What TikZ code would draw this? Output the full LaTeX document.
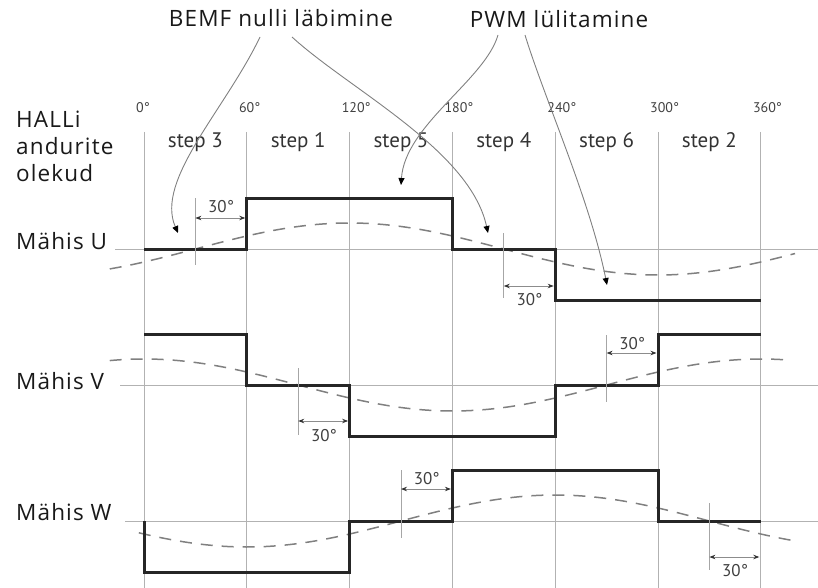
\documentclass[tikz,border=0pt]{standalone}
\usepackage{fontspec}
\setmainfont{Open Sans}[LetterSpace=5.0]
\newfontfamily\stepfont{PT Sans}
\usetikzlibrary{arrows.meta}

\begin{document}
\begin{tikzpicture}[x=1pt, y=-1pt,
    plaintext/.style ={inner sep=0pt, text=black!90, font=\fontsize{22.5}{27}\selectfont},
    steptext/.style ={inner sep=0pt, text=black!80, font=\stepfont\fontsize{21}{21}\selectfont},
    degtext/.style ={inner sep=0pt, text=black!75, font=\stepfont\fontsize{14}{14}\selectfont},
    thirty/.style ={inner sep=0pt, text=black!75, font=\stepfont\fontsize{17}{17}\selectfont},
    gridline/.style ={draw=black!30, line width=0.9pt},
    coilwave/.style ={draw=black!85, line width=3pt},
    bemfcurve/.style ={draw=black!50, line width=1.5pt, dash pattern=on 12pt off 9pt},
    dimtick/.style ={draw=black!35, line width=0.8pt},
    dimarrow/.style ={draw=black!45, line width=0.8pt, shorten >=1.5pt,
        {Stealth[black!80,length=6pt,width=4.5pt]}-{Stealth[black!80,length=6pt,width=4.5pt]}},
    pointer/.style ={draw=black!50, line width=0.9pt, -{Triangle[black,length=7pt,width=6pt]}}]

   \useasboundingbox (0,0) rectangle (818,588);

   % captions
   \node[plaintext, anchor=base] (bemf) at (281,27) {BEMF nulli läbimine};
   \node[plaintext, anchor=base] (pwm) at (559,28) {PWM lülitamine};
   \node[plaintext, anchor=base west, align=left] (hall) at (16,182) {HALLi\\andurite\\olekud};
   \node[plaintext, anchor=base west] (coilU) at (16,249) {Mähis U};
   \node[plaintext, anchor=base west] (coilV) at (16,389) {Mähis V};
   \node[plaintext, anchor=base west] (coilW) at (16,520) {Mähis W};

   % zero lines
   \draw[gridline] (115,249) -- (818,249);
   \draw[gridline] (120,385) -- (818,385);
   \draw[gridline] (125,521) -- (818,521);

   \begin{scope}[xshift=144pt, x=1.7133pt]
   \foreach \a in {0,60,...,360} {
      \draw[gridline] (\a,132) -- (\a,588);
      \node[degtext, anchor=base west, xshift=-8pt] (deg\a) at (\a,113) {\a°};
   }
   \foreach \a/\s in {30/3, 90/1, 150/5, 210/4, 270/6, 330/2}
      \node[steptext, anchor=base] (step\s) at (\a,148) {step \s};

   % back EMF
   \draw[bemfcurve] plot[domain=-20:380, samples=90, smooth] (\x, {249-26*sin(\x-30)});
   \draw[bemfcurve] plot[domain=-20:378, samples=90, smooth] (\x, {385-26*cos(\x)});
   \draw[bemfcurve] plot[domain=-3:381, samples=90, smooth] (\x, {521-26*sin(\x-150)});

   % phase voltages
   \draw[coilwave] (0,249) -- (60,249) -- (60,198) -- (180,198) -- (180,249)
      -- (240,249) -- (240,300) -- (360,300);
   \draw[coilwave] (0,334) -- (60,334) -- (60,385) -- (120,385) -- (120,436)
      -- (240,436) -- (240,385) -- (300,385) -- (300,334) -- (360,334);
   \draw[coilwave] (0,521) -- (0,572) -- (120,572) -- (120,521) -- (180,521)
      -- (180,470) -- (300,470) -- (300,521) -- (360,521);

   % 30 degree delays
   \foreach \a/\ya/\yb/\yc/\yd in {30/198/265/218/207, 210/233/298/286/300,
         90/368/435/421/436, 270/335/402/353/344,
         150/470/538/489/479, 330/503/570/557/571} {
      \draw[dimtick] (\a,\ya) -- (\a,\yb);
      \coordinate (from\a) at (\a,\yc);
      \coordinate (to\a) at ({\a+30},\yc);
      \draw[dimarrow] (from\a) -- (to\a);
      \node[thirty] (thirty\a) at ({\a+15},\yd) {30°};
   }
   \end{scope}

   % pointers
   \coordinate (zeroA) at (178,233);
   \coordinate (zeroB) at (488,233);
   \coordinate (pwmA) at (401,185);
   \coordinate (pwmB) at (607,285);
   \draw[pointer] ([xshift=-21pt,yshift=-10pt]bemf.base) .. controls (225,110) and (155,180) .. (zeroA);
   \draw[pointer] ([xshift=11pt,yshift=-10pt]bemf.base) .. controls (350,90) and (470,150) .. (zeroB);
   \draw[pointer] ([xshift=-61pt,yshift=-7pt]pwm.base) .. controls (485,80) and (405,125) .. (pwmA);
   \draw[pointer] ([xshift=-34pt,yshift=-7pt]pwm.base) .. controls (545,100) and (590,200) .. (pwmB);
\end{tikzpicture}
\end{document}
